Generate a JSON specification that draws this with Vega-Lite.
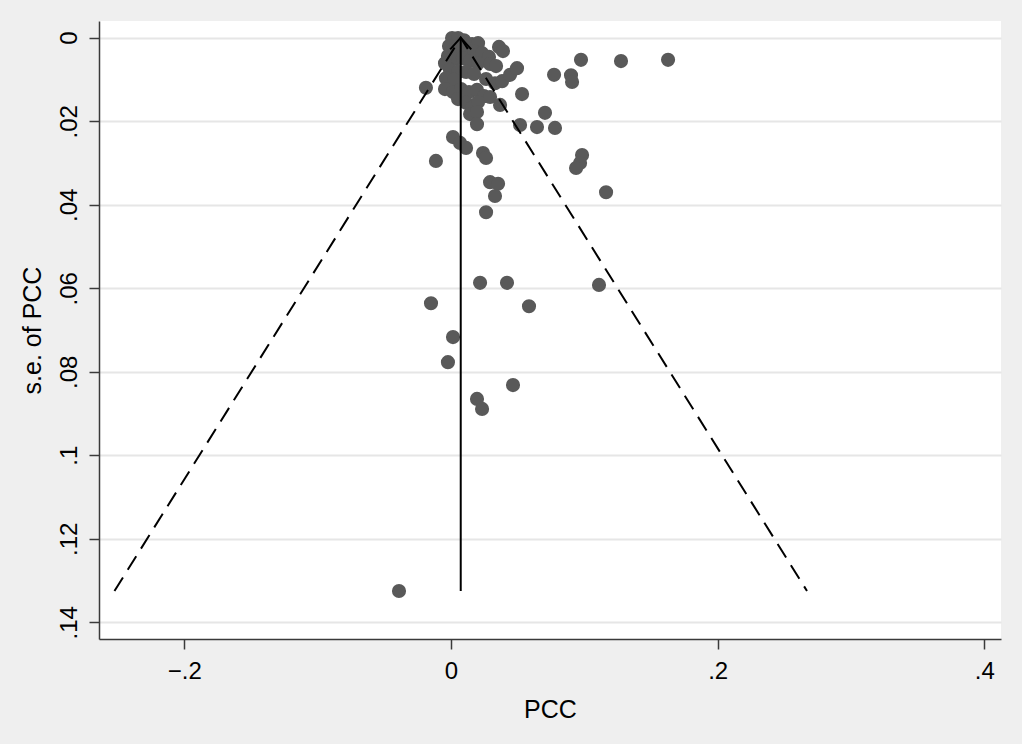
{
  "$schema": "https://vega.github.io/schema/vega-lite/v6.json",
  "width": 902,
  "height": 618,
  "autosize": {"type": "none"},
  "padding": {"left": 99, "top": 21, "right": 21, "bottom": 105},
  "background": "#efefef",
  "config": {
    "view": {"stroke": null, "fill": "white"},
    "font": "Liberation Sans",
    "axis": {
      "domainColor": "#3a3a3a",
      "domainWidth": 1.5,
      "tickColor": "#3a3a3a",
      "tickWidth": 1.5,
      "tickSize": 10,
      "labelFont": "Liberation Sans",
      "labelFontSize": 24,
      "labelColor": "black",
      "titleFont": "Liberation Sans",
      "titleFontSize": 25,
      "titleFontWeight": "normal",
      "titleColor": "black"
    }
  },
  "datasets": {
    "studies": [
      {"pcc": 0.0008, "se": 0.0001}, {"pcc": 0.0053, "se": 0.0001}, {"pcc": 0.0098, "se": 0.0006},
      {"pcc": 0.0158, "se": 0.0015}, {"pcc": 0.0203, "se": 0.0013}, {"pcc": -0.0015, "se": 0.002},
      {"pcc": 0.0038, "se": 0.0027}, {"pcc": 0.0113, "se": 0.0025}, {"pcc": 0.0173, "se": 0.0032},
      {"pcc": 0.0233, "se": 0.0037}, {"pcc": 0.0285, "se": 0.0046}, {"pcc": 0.036, "se": 0.0022},
      {"pcc": 0.039, "se": 0.0032}, {"pcc": -0.0023, "se": 0.0044}, {"pcc": 0.0038, "se": 0.0051},
      {"pcc": 0.009, "se": 0.0049}, {"pcc": 0.0143, "se": 0.0056}, {"pcc": 0.0203, "se": 0.0061},
      {"pcc": 0.0293, "se": 0.0063}, {"pcc": 0.0338, "se": 0.0068}, {"pcc": -0.0045, "se": 0.0061},
      {"pcc": -0.0008, "se": 0.0077}, {"pcc": 0.0053, "se": 0.0082}, {"pcc": -0.0038, "se": 0.0097},
      {"pcc": 0.0023, "se": 0.0101}, {"pcc": 0.0113, "se": 0.0082}, {"pcc": 0.0173, "se": 0.0087},
      {"pcc": 0.0263, "se": 0.0099}, {"pcc": 0.033, "se": 0.0109}, {"pcc": 0.0383, "se": 0.0104},
      {"pcc": 0.0443, "se": 0.0089}, {"pcc": 0.0495, "se": 0.0073}, {"pcc": -0.0045, "se": 0.0123},
      {"pcc": 0.0015, "se": 0.013}, {"pcc": 0.0075, "se": 0.0123}, {"pcc": 0.0135, "se": 0.013},
      {"pcc": 0.0195, "se": 0.0125}, {"pcc": 0.0248, "se": 0.014}, {"pcc": 0.0053, "se": 0.0147},
      {"pcc": 0.0113, "se": 0.0156}, {"pcc": 0.0158, "se": 0.0168}, {"pcc": 0.0203, "se": 0.0154},
      {"pcc": 0.0143, "se": 0.0183}, {"pcc": 0.0195, "se": 0.0178}, {"pcc": 0.0293, "se": 0.0142},
      {"pcc": 0.0368, "se": 0.0161}, {"pcc": 0.0195, "se": 0.0207}, {"pcc": -0.0188, "se": 0.012},
      {"pcc": 0.0533, "se": 0.0135}, {"pcc": 0.0773, "se": 0.0089}, {"pcc": 0.09, "se": 0.009},
      {"pcc": 0.0908, "se": 0.0106}, {"pcc": 0.0975, "se": 0.0053}, {"pcc": 0.1275, "se": 0.0056},
      {"pcc": 0.1628, "se": 0.0053}, {"pcc": 0.0705, "se": 0.018}, {"pcc": 0.0518, "se": 0.0209},
      {"pcc": 0.0645, "se": 0.0214}, {"pcc": 0.078, "se": 0.0216}, {"pcc": 0.0015, "se": 0.0238},
      {"pcc": 0.0068, "se": 0.0252}, {"pcc": 0.0113, "se": 0.0264}, {"pcc": -0.0113, "se": 0.0295},
      {"pcc": 0.024, "se": 0.0276}, {"pcc": 0.0263, "se": 0.0288}, {"pcc": 0.0983, "se": 0.0281},
      {"pcc": 0.0968, "se": 0.03}, {"pcc": 0.0938, "se": 0.0312}, {"pcc": 0.0293, "se": 0.0346},
      {"pcc": 0.0353, "se": 0.035}, {"pcc": 0.033, "se": 0.0379}, {"pcc": 0.1163, "se": 0.037},
      {"pcc": 0.0263, "se": 0.0418}, {"pcc": 0.0218, "se": 0.0587}, {"pcc": 0.042, "se": 0.0587},
      {"pcc": 0.111, "se": 0.0592}, {"pcc": -0.015, "se": 0.0636}, {"pcc": 0.0585, "se": 0.0643},
      {"pcc": 0.0015, "se": 0.0717}, {"pcc": -0.0023, "se": 0.0777}, {"pcc": 0.0465, "se": 0.0832},
      {"pcc": 0.0195, "se": 0.0865}, {"pcc": 0.0233, "se": 0.0889}, {"pcc": -0.039, "se": 0.1325}
    ],
    "funnel": [
      {"i": 1, "pcc": -0.2524, "se": 0.1325},
      {"i": 2, "pcc": 0.0073, "se": 0.0},
      {"i": 3, "pcc": 0.267, "se": 0.1325}
    ],
    "mean": [
      {"i": 1, "pcc": 0.0073, "se": 0.1325},
      {"i": 2, "pcc": 0.0073, "se": 0.0}
    ],
    "arrow": [
      {"i": 1, "pcc": -0.0006, "se": 0.0028},
      {"i": 2, "pcc": 0.0073, "se": 0.0},
      {"i": 3, "pcc": 0.0152, "se": 0.0028}
    ]
  },
  "layer": [
    {
      "data": {"name": "studies"},
      "mark": {"type": "circle", "size": 200, "color": "#595959", "opacity": 1},
      "encoding": {
        "x": {
          "field": "pcc", "type": "quantitative",
          "scale": {"domain": [-0.264, 0.4125], "nice": false, "zero": false},
          "axis": {
            "title": "PCC",
            "values": [-0.2, 0, 0.2, 0.4],
            "grid": false,
            "labelExpr": "replace(format(datum.value, '~g'), '0.', '.')",
            "labelPadding": 10,
            "titlePadding": 14
          }
        },
        "y": {
          "field": "se", "type": "quantitative",
          "scale": {"domain": [-0.004, 0.144], "nice": false, "zero": false, "reverse": true},
          "axis": {
            "title": "s.e. of PCC",
            "values": [0, 0.02, 0.04, 0.06, 0.08, 0.1, 0.12, 0.14],
            "grid": true,
            "gridColor": "#e6e6e6",
            "gridWidth": 2,
            "labelAngle": 270,
            "labelAlign": "center",
            "labelBaseline": "bottom",
            "labelPadding": 8,
            "labelExpr": "replace(format(datum.value, '~g'), '0.', '.')",
            "titlePadding": 12
          }
        }
      }
    },
    {
      "data": {"name": "funnel"},
      "mark": {"type": "line", "color": "black", "strokeWidth": 2, "strokeDash": [16, 9]},
      "encoding": {
        "x": {"field": "pcc", "type": "quantitative"},
        "y": {"field": "se", "type": "quantitative"},
        "order": {"field": "i"}
      }
    },
    {
      "data": {"name": "mean"},
      "mark": {"type": "line", "color": "black", "strokeWidth": 2},
      "encoding": {
        "x": {"field": "pcc", "type": "quantitative"},
        "y": {"field": "se", "type": "quantitative"},
        "order": {"field": "i"}
      }
    },
    {
      "data": {"name": "arrow"},
      "mark": {"type": "line", "color": "black", "strokeWidth": 2},
      "encoding": {
        "x": {"field": "pcc", "type": "quantitative"},
        "y": {"field": "se", "type": "quantitative"},
        "order": {"field": "i"}
      }
    }
  ]
}
